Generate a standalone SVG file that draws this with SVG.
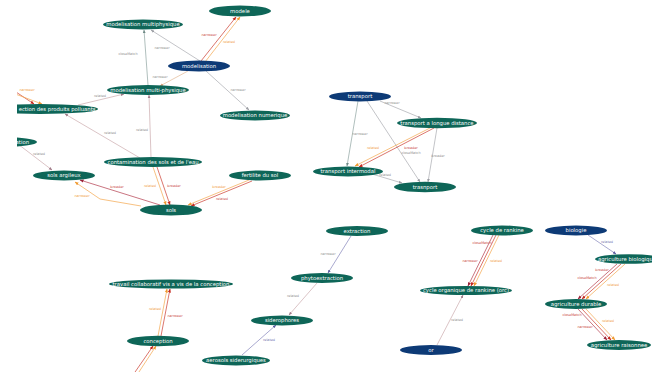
<svg xmlns="http://www.w3.org/2000/svg" width="652" height="372" viewBox="0 0 652 372">
  <style>
    .n ellipse { fill: #0e6658; }
    .n.root ellipse { fill: #0d3a76; }
    .n text { fill: #ffffff; font-family: "DejaVu Sans", sans-serif; font-size: 5.3px; text-anchor: middle; }
    .e { fill: none; stroke-width: 0.7; }
    .lbl { font-family: "DejaVu Sans", sans-serif; font-size: 3.4px; text-anchor: middle; }
    .grey { stroke: #a9abb0; marker-end: url(#aGrey); }
    .sage { stroke: #8ea3a0; marker-end: url(#aSage); }
    .tan { stroke: #e2b894; marker-end: url(#aTan); }
    .pink { stroke: #cbaaae; marker-end: url(#aPink); }
    .red { stroke: #cc3b2e; marker-end: url(#aRed); }
    .wine { stroke: #b23a4a; marker-end: url(#aWine); }
    .orange { stroke: #f4a64c; marker-end: url(#aOrange); }
    .purple { stroke: #8484ba; marker-end: url(#aPurple); }
    .lg { fill: #8c8c8c; }
    .lr { fill: #c8403a; }
    .lo { fill: #f09a3a; }
    .lp { fill: #6f6fae; }
  </style>
  <defs>
    <marker id="aGrey" viewBox="0 0 10 10" refX="9" refY="5" markerWidth="3.5" markerHeight="3.5" markerUnits="userSpaceOnUse" orient="auto"><path d="M0,1 L10,5 L0,9 z" fill="#9a9ca2"/></marker>
    <marker id="aSage" viewBox="0 0 10 10" refX="9" refY="5" markerWidth="3.5" markerHeight="3.5" markerUnits="userSpaceOnUse" orient="auto"><path d="M0,1 L10,5 L0,9 z" fill="#6f8a86"/></marker>
    <marker id="aTan" viewBox="0 0 10 10" refX="9" refY="5" markerWidth="3.5" markerHeight="3.5" markerUnits="userSpaceOnUse" orient="auto"><path d="M0,1 L10,5 L0,9 z" fill="#d49a70"/></marker>
    <marker id="aPink" viewBox="0 0 10 10" refX="9" refY="5" markerWidth="3.5" markerHeight="3.5" markerUnits="userSpaceOnUse" orient="auto"><path d="M0,1 L10,5 L0,9 z" fill="#a07a88"/></marker>
    <marker id="aRed" viewBox="0 0 10 10" refX="9" refY="5" markerWidth="4" markerHeight="4" markerUnits="userSpaceOnUse" orient="auto"><path d="M0,1 L10,5 L0,9 z" fill="#c4281e"/></marker>
    <marker id="aWine" viewBox="0 0 10 10" refX="9" refY="5" markerWidth="4" markerHeight="4" markerUnits="userSpaceOnUse" orient="auto"><path d="M0,1 L10,5 L0,9 z" fill="#9a2238"/></marker>
    <marker id="aOrange" viewBox="0 0 10 10" refX="9" refY="5" markerWidth="4" markerHeight="4" markerUnits="userSpaceOnUse" orient="auto"><path d="M0,1 L10,5 L0,9 z" fill="#f09a30"/></marker>
    <marker id="aPurple" viewBox="0 0 10 10" refX="9" refY="5" markerWidth="3.5" markerHeight="3.5" markerUnits="userSpaceOnUse" orient="auto"><path d="M0,1 L10,5 L0,9 z" fill="#5a5aa0"/></marker>
    <clipPath id="view"><rect x="17" y="0" width="635" height="372"/></clipPath>
  </defs>
  <rect width="652" height="372" fill="#ffffff"/>

  <g clip-path="url(#view)">
  <g id="connectors">
    <!-- modelisation cluster -->
    <path class="e grey" d="M200,61 L151,30"/>
    <text class="lbl lg" x="162" y="49">narrower</text>
    <path class="e sage" d="M148,85 L144,30"/>
    <text class="lbl lg" x="128" y="55">closeMatch</text>
    <path class="e tan" d="M188,71 L160,86"/>
    <text class="lbl lg" x="160" y="78">narrower</text>
    <path class="e red" d="M201,61 L236,17"/>
    <path class="e orange" d="M205,62 L240,17"/>
    <text class="lbl lr" x="209" y="36">narrower</text>
    <text class="lbl lo" x="229" y="43">related</text>
    <path class="e grey" d="M206,71 L249,110"/>
    <text class="lbl lg" x="238" y="91">narrower</text>
    <path class="e pink" d="M78,105 L124,94"/>
    <text class="lbl lg" x="100" y="97">related</text>
    <path class="e pink" d="M140,158 L65,114"/>
    <text class="lbl lg" x="110" y="134">related</text>
    <path class="e pink" d="M151,157 L149,95"/>
    <text class="lbl lg" x="142" y="131">related</text>
    <path class="e red" d="M10,88 L34,104"/>
    <path class="e orange" d="M10,92 L42,104"/>
    <text class="lbl lo" x="27" y="91">narrower</text>

    <!-- sols cluster -->
    <path class="e pink" d="M10,138 L52,170"/>
    <text class="lbl lg" x="39" y="155">related</text>
    <path class="e wine" d="M160,205 L80,180"/>
    <text class="lbl lr" x="117" y="188">broader</text>
    <path class="e orange" d="M141,206 L100,199 L75,182"/>
    <text class="lbl lo" x="82" y="197">narrower</text>
    <path class="e orange" d="M153,167 L166,205"/>
    <path class="e red" d="M157,167 L170,205"/>
    <text class="lbl lo" x="150" y="187">related</text>
    <text class="lbl lr" x="174" y="187">broader</text>
    <path class="e orange" d="M249,180 L188,205"/>
    <path class="e red" d="M252,181 L191,206"/>
    <text class="lbl lo" x="219" y="188">broader</text>
    <text class="lbl lr" x="222" y="200">related</text>

    <!-- transport cluster -->
    <path class="e grey" d="M380,101 L421,118"/>
    <text class="lbl lg" x="392" y="104">narrower</text>
    <path class="e sage" d="M358,101 L347,166"/>
    <text class="lbl lg" x="360" y="135">narrower</text>
    <path class="e grey" d="M367,101 L420,182"/>
    <text class="lbl lg" x="411" y="154">closeMatch</text>
    <path class="e orange" d="M430,128 L355,166"/>
    <path class="e red" d="M434,128 L359,167"/>
    <text class="lbl lo" x="373" y="149">related</text>
    <text class="lbl lr" x="411" y="149">broader</text>
    <path class="e grey" d="M437,128 L428,182"/>
    <text class="lbl lg" x="438" y="157">broader</text>
    <path class="e grey" d="M372,174 L402,183"/>
    <text class="lbl lg" x="385" y="176">related</text>

    <!-- extraction cluster -->
    <path class="e purple" d="M351,236 L328,273"/>
    <text class="lbl lg" x="328" y="255">narrower</text>
    <path class="e pink" d="M317,283 L289,315"/>
    <text class="lbl lg" x="293" y="297">related</text>
    <path class="e purple" d="M242,355 L276,325"/>
    <text class="lbl lp" x="269" y="341">related</text>

    <!-- conception cluster -->
    <path class="e orange" d="M158,336 L167,289"/>
    <path class="e red" d="M161,336 L170,289"/>
    <text class="lbl lo" x="155" y="310">related</text>
    <text class="lbl lr" x="175" y="317">narrower</text>
    <path class="e red" d="M133,375 L153,346"/>
    <path class="e orange" d="M137,375 L156,346"/>

    <!-- rankine cluster -->
    <path class="e wine" d="M493,235 L468,286"/>
    <path class="e red" d="M496,235 L471,286"/>
    <path class="e orange" d="M499,235 L474,286"/>
    <text class="lbl lr" x="482" y="244">closeMatch</text>
    <text class="lbl lr" x="470" y="262">narrower</text>
    <text class="lbl lo" x="496" y="262">related</text>
    <path class="e pink" d="M437,345 L463,295"/>
    <text class="lbl lg" x="457" y="321">related</text>

    <!-- agriculture cluster -->
    <path class="e purple" d="M588,235 L616,254"/>
    <text class="lbl lp" x="607" y="243">related</text>
    <path class="e wine" d="M617,264 L578,299"/>
    <path class="e red" d="M621,264 L582,299"/>
    <path class="e orange" d="M625,264 L586,299"/>
    <text class="lbl lr" x="602" y="271">broader</text>
    <text class="lbl lr" x="587" y="279">closeMatch</text>
    <text class="lbl lo" x="613" y="286">related</text>
    <path class="e wine" d="M578,309 L607,340"/>
    <path class="e red" d="M582,309 L611,340"/>
    <path class="e orange" d="M586,309 L615,340"/>
    <text class="lbl lr" x="572" y="316">closeMatch</text>
    <text class="lbl lr" x="585" y="328">narrower</text>
    <text class="lbl lo" x="608" y="322">related</text>
  </g>

  <g id="node-modele" class="n"><ellipse cx="240" cy="11" rx="31" ry="5.5"/><text x="240" y="12.9">modele</text></g>
  <g id="node-modelisation-multiphysique" class="n"><ellipse cx="143" cy="24.5" rx="40" ry="5"/><text x="143" y="26.4">modelisation multiphysique</text></g>
  <g id="node-modelisation" class="n root"><ellipse cx="199" cy="66" rx="31" ry="5.5"/><text x="199" y="67.9">modelisation</text></g>
  <g id="node-modelisation-multi-physique" class="n"><ellipse cx="148" cy="90" rx="41" ry="5"/><text x="148" y="91.9">modelisation multi-physique</text></g>
  <g id="node-produits-polluants" class="n"><ellipse cx="40" cy="109" rx="58" ry="5"/><text x="95.5" y="110.9" style="text-anchor:end">ection des produits polluants</text></g>
  <g id="node-modelisation-numerique" class="n"><ellipse cx="255" cy="115.5" rx="35" ry="5"/><text x="255" y="117.4">modelisation numerique</text></g>
  <g id="node-ation" class="n"><ellipse cx="0" cy="142" rx="37" ry="5"/><text x="29" y="143.9" style="text-anchor:end">ation</text></g>
  <g id="node-contamination" class="n"><ellipse cx="153" cy="162" rx="49" ry="5"/><text x="153" y="163.9">contamination des sols et de l'eau</text></g>
  <g id="node-sols-argileux" class="n"><ellipse cx="64" cy="175.5" rx="31" ry="5"/><text x="64" y="177.4">sols argileux</text></g>
  <g id="node-fertilite" class="n"><ellipse cx="260" cy="175.5" rx="31" ry="5"/><text x="260" y="177.4">fertilite du sol</text></g>
  <g id="node-sols" class="n"><ellipse cx="171" cy="210" rx="31" ry="5.5"/><text x="171" y="211.9">sols</text></g>

  <g id="node-transport" class="n root"><ellipse cx="360" cy="96.5" rx="31" ry="5"/><text x="360" y="98.4">transport</text></g>
  <g id="node-transport-longue" class="n"><ellipse cx="437" cy="123" rx="40" ry="5.2"/><text x="437" y="124.9">transport a longue distance</text></g>
  <g id="node-transport-intermodal" class="n"><ellipse cx="348" cy="171.5" rx="35" ry="5"/><text x="348" y="173.4">transport intermodal</text></g>
  <g id="node-trasnport" class="n"><ellipse cx="425" cy="187" rx="31" ry="5.2"/><text x="425" y="188.9">trasnport</text></g>

  <g id="node-extraction" class="n"><ellipse cx="357" cy="231" rx="31" ry="5"/><text x="357" y="232.9">extraction</text></g>
  <g id="node-phytoextraction" class="n"><ellipse cx="322" cy="278" rx="31" ry="5"/><text x="322" y="279.9">phytoextraction</text></g>
  <g id="node-siderophores" class="n"><ellipse cx="282" cy="320.5" rx="31" ry="5"/><text x="282" y="322.4">siderophores</text></g>
  <g id="node-aerosols" class="n"><ellipse cx="236" cy="360.5" rx="34" ry="5"/><text x="236" y="362.4">aerosols siderurgiques</text></g>
  <g id="node-travail" class="n"><ellipse cx="171" cy="284" rx="62" ry="4.6"/><text x="171" y="285.9">travail collaboratif vis a vis de la conception</text></g>
  <g id="node-conception" class="n"><ellipse cx="158" cy="341" rx="31" ry="5.2"/><text x="158" y="342.9">conception</text></g>

  <g id="node-cycle-rankine" class="n"><ellipse cx="502" cy="230.5" rx="31" ry="5"/><text x="502" y="232.4">cycle de rankine</text></g>
  <g id="node-cycle-orc" class="n"><ellipse cx="466" cy="290.5" rx="46" ry="4.6"/><text x="466" y="292.4">cycle organique de rankine (orc)</text></g>
  <g id="node-or" class="n root"><ellipse cx="431" cy="350" rx="31" ry="5"/><text x="431" y="351.9">or</text></g>

  <g id="node-biologie" class="n root"><ellipse cx="576" cy="230.5" rx="31" ry="5"/><text x="576" y="232.4">biologie</text></g>
  <g id="node-agriculture-biologique" class="n"><ellipse cx="629" cy="259" rx="34" ry="4.8"/><text x="627" y="260.9">agriculture biologique</text></g>
  <g id="node-agriculture-durable" class="n"><ellipse cx="576" cy="304" rx="31" ry="5"/><text x="576" y="305.9">agriculture durable</text></g>
  <g id="node-agriculture-raisonnee" class="n"><ellipse cx="619" cy="345" rx="32" ry="5"/><text x="619" y="346.9">agriculture raisonnee</text></g>
  </g>
</svg>
